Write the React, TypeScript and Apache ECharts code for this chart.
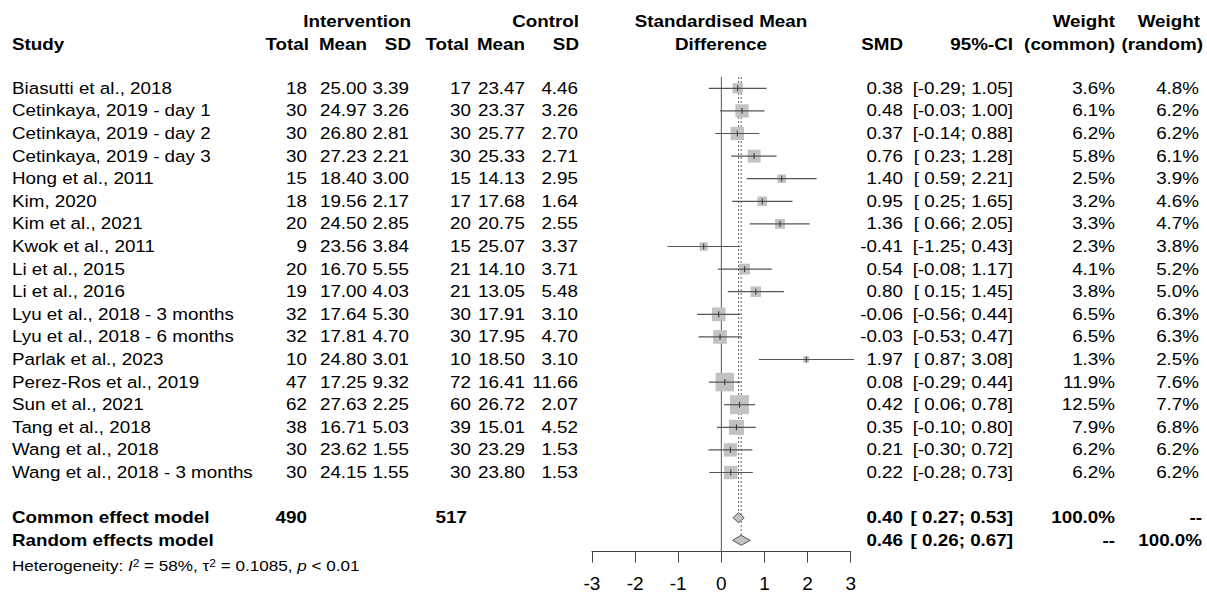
import React, { useEffect, useRef } from "react";
import * as echarts from "echarts";

const studies = [
  "Biasutti et al., 2018",
  "Cetinkaya, 2019 - day 1",
  "Cetinkaya, 2019 - day 2",
  "Cetinkaya, 2019 - day 3",
  "Hong et al., 2011",
  "Kim, 2020",
  "Kim et al., 2021",
  "Kwok et al., 2011",
  "Li et al., 2015",
  "Li et al., 2016",
  "Lyu et al., 2018 - 3 months",
  "Lyu et al., 2018 - 6 months",
  "Parlak et al., 2023",
  "Perez-Ros et al., 2019",
  "Sun et al., 2021",
  "Tang et al., 2018",
  "Wang et al., 2018",
  "Wang et al., 2018 - 3 months",
];
const intTotal = [18, 30, 30, 30, 15, 18, 20, 9, 20, 19, 32, 32, 10, 47, 62, 38, 30, 30];
const intMean = [25.0, 24.97, 26.8, 27.23, 18.4, 19.56, 24.5, 23.56, 16.7, 17.0, 17.64, 17.81, 24.8, 17.25, 27.63, 16.71, 23.62, 24.15];
const intSD = [3.39, 3.26, 2.81, 2.21, 3.0, 2.17, 2.85, 3.84, 5.55, 4.03, 5.3, 4.7, 3.01, 9.32, 2.25, 5.03, 1.55, 1.55];
const ctrlTotal = [17, 30, 30, 30, 15, 17, 20, 15, 21, 21, 30, 30, 10, 72, 60, 39, 30, 30];
const ctrlMean = [23.47, 23.37, 25.77, 25.33, 14.13, 17.68, 20.75, 25.07, 14.1, 13.05, 17.91, 17.95, 18.5, 16.41, 26.72, 15.01, 23.29, 23.8];
const ctrlSD = [4.46, 3.26, 2.7, 2.71, 2.95, 1.64, 2.55, 3.37, 3.71, 5.48, 3.1, 4.7, 3.1, 11.66, 2.07, 4.52, 1.53, 1.53];
const smd = [0.38, 0.48, 0.37, 0.76, 1.4, 0.95, 1.36, -0.41, 0.54, 0.8, -0.06, -0.03, 1.97, 0.08, 0.42, 0.35, 0.21, 0.22];
const ciLow = [-0.29, -0.03, -0.14, 0.23, 0.59, 0.25, 0.66, -1.25, -0.08, 0.15, -0.56, -0.53, 0.87, -0.29, 0.06, -0.1, -0.3, -0.28];
const ciHigh = [1.05, 1.0, 0.88, 1.28, 2.21, 1.65, 2.05, 0.43, 1.17, 1.45, 0.44, 0.47, 3.08, 0.44, 0.78, 0.8, 0.72, 0.73];
const weightCommon = [3.6, 6.1, 6.2, 5.8, 2.5, 3.2, 3.3, 2.3, 4.1, 3.8, 6.5, 6.5, 1.3, 11.9, 12.5, 7.9, 6.2, 6.2];
const weightRandom = [4.8, 6.2, 6.2, 6.1, 3.9, 4.6, 4.7, 3.8, 5.2, 5.0, 6.3, 6.3, 2.5, 7.6, 7.7, 6.8, 6.2, 6.2];

const summaryLabels = ["Common effect model", "Random effects model"];
const summaryEst = [0.4, 0.46];
const summaryLow = [0.27, 0.26];
const summaryHigh = [0.53, 0.67];
const summaryIntTotal = [490, null];
const summaryCtrlTotal = [517, null];
const summaryWCommon = ["100.0%", "--"];
const summaryWRandom = ["--", "100.0%"];
const xTickMin = -3;
const xTickMax = 3;

const FONT = "'Liberation Sans', Arial, sans-serif";
const FS = 16.5;
const SX = 1.14;

const fmt2 = (v: number) => v.toFixed(2);
const padCI = (v: number) => (v < 0 ? v.toFixed(2) : " " + v.toFixed(2));
const ci = (lo: number, hi: number) => `[${padCI(lo)}; ${hi.toFixed(2)}]`;

type Cell = { t: string; x: number; a: "left" | "right" | "center"; b?: boolean; rich?: boolean };

const COL = {
  study: 12,
  iTot: 307,
  iMean: 367,
  iSD: 409,
  cTot: 471,
  cMean: 525,
  cSD: 578,
  mid: 721,
  smd: 903,
  ci: 1013,
  wc: 1115,
  wr: 1199,
};

function buildTextRows(): { row: number; cells: Cell[] }[] {
  const rows: { row: number; cells: Cell[] }[] = [];
  rows.push({
    row: -2.95,
    cells: [
      { t: "Intervention", x: COL.iSD + 2, a: "right", b: true },
      { t: "Control", x: COL.cSD + 1, a: "right", b: true },
      { t: "Standardised Mean", x: COL.mid, a: "center", b: true },
      { t: "Weight", x: COL.wc, a: "right", b: true },
      { t: "Weight", x: COL.wr + 1, a: "right", b: true },
    ],
  });
  rows.push({
    row: -1.95,
    cells: [
      { t: "Study", x: COL.study, a: "left", b: true },
      { t: "Total", x: COL.iTot + 2, a: "right", b: true },
      { t: "Mean", x: COL.iMean, a: "right", b: true },
      { t: "SD", x: COL.iSD + 2, a: "right", b: true },
      { t: "Total", x: COL.cTot - 2, a: "right", b: true },
      { t: "Mean", x: COL.cMean, a: "right", b: true },
      { t: "SD", x: COL.cSD + 1, a: "right", b: true },
      { t: "Difference", x: COL.mid, a: "center", b: true },
      { t: "SMD", x: COL.smd, a: "right", b: true },
      { t: "95%-CI", x: COL.ci, a: "right", b: true },
      { t: "(common)", x: COL.wc, a: "right", b: true },
      { t: "(random)", x: COL.wr + 4, a: "right", b: true },
    ],
  });
  studies.forEach((s, i) => {
    rows.push({
      row: i,
      cells: [
        { t: s, x: COL.study, a: "left" },
        { t: String(intTotal[i]), x: COL.iTot, a: "right" },
        { t: fmt2(intMean[i]), x: COL.iMean, a: "right" },
        { t: fmt2(intSD[i]), x: COL.iSD, a: "right" },
        { t: String(ctrlTotal[i]), x: COL.cTot, a: "right" },
        { t: fmt2(ctrlMean[i]), x: COL.cMean, a: "right" },
        { t: fmt2(ctrlSD[i]), x: COL.cSD, a: "right" },
        { t: fmt2(smd[i]), x: COL.smd, a: "right" },
        { t: ci(ciLow[i], ciHigh[i]), x: COL.ci, a: "right" },
        { t: weightCommon[i].toFixed(1) + "%", x: COL.wc, a: "right" },
        { t: weightRandom[i].toFixed(1) + "%", x: COL.wr, a: "right" },
      ],
    });
  });
  summaryLabels.forEach((lab, k) => {
    const cells: Cell[] = [{ t: lab, x: COL.study, a: "left", b: true }];
    if (summaryIntTotal[k] != null) cells.push({ t: String(summaryIntTotal[k]), x: COL.iTot, a: "right", b: true });
    if (summaryCtrlTotal[k] != null) cells.push({ t: String(summaryCtrlTotal[k]), x: COL.cTot - 4, a: "right", b: true });
    cells.push({ t: fmt2(summaryEst[k]), x: COL.smd, a: "right", b: true });
    cells.push({ t: ci(summaryLow[k], summaryHigh[k]), x: COL.ci, a: "right", b: true });
    cells.push({ t: summaryWCommon[k], x: COL.wc, a: "right", b: true });
    cells.push({ t: summaryWRandom[k], x: COL.wr + 3, a: "right", b: true });
    rows.push({ row: studies.length + 1 + k, cells });
  });
  rows.push({
    row: studies.length + 3.1,
    cells: [
      {
        t: "Heterogeneity: {it|I}{sup|2} = 58%, τ{sup|2} = 0.1085, {it|p} < 0.01",
        x: COL.study,
        a: "left",
        rich: true,
      },
    ],
  });
  return rows;
}

export default function App() {
  const ref = useRef<HTMLDivElement>(null);

  useEffect(() => {
    if (!ref.current) return;
    const chart = echarts.init(ref.current, null, { renderer: "svg" });
    const textRows = buildTextRows();
    const nStudies = studies.length;
    const commonRow = nStudies + 1;
    const randomRow = nStudies + 2;
    const DIA_H = 5;

    const option: any = {
      animation: false,
      backgroundColor: "#ffffff",
      grid: { left: 592, right: 356.3, top: 9.2, bottom: 42.4, containLabel: false },
      xAxis: {
        type: "value",
        min: xTickMin,
        max: xTickMax,
        interval: 1,
        splitLine: { show: false },
        axisLine: { show: true, onZero: false, lineStyle: { color: "#444", width: 1 } },
        axisTick: { show: true, length: 11, lineStyle: { color: "#444", width: 1 } },
        axisLabel: { color: "#000", fontSize: 19, fontFamily: FONT, margin: 22 },
      },
      yAxis: {
        type: "value",
        min: -3.5,
        max: randomRow + 0.5,
        inverse: true,
        show: false,
        splitLine: { show: false },
      },
      series: [
        {
          type: "custom",
          name: "reflines",
          silent: true,
          data: [
            [0, -0.5, randomRow + 0.5, 0],
            [summaryEst[0], -0.5, commonRow, 1],
            [summaryEst[1], -0.5, randomRow, 1],
          ],
          renderItem: (params: any, api: any) => {
            const x = api.value(0);
            const p0 = api.coord([x, api.value(1)]);
            const p1 = api.coord([x, api.value(2)]);
            const dotted = api.value(3) === 1;
            return {
              type: "line",
              shape: { x1: p0[0], y1: p0[1], x2: p1[0], y2: dotted ? p1[1] - DIA_H : p1[1] },
              style: {
                stroke: dotted ? "#666" : "#555",
                lineWidth: 1,
                lineDash: dotted ? [2, 2] : null,
              },
            };
          },
          z: 1,
        },
        {
          type: "custom",
          name: "studies",
          silent: true,
          data: studies.map((_, i) => [smd[i], i, ciLow[i], ciHigh[i], weightCommon[i]]),
          renderItem: (params: any, api: any) => {
            const est = api.value(0);
            const row = api.value(1);
            const p = api.coord([est, row]);
            const l = api.coord([api.value(2), row]);
            const h = api.coord([api.value(3), row]);
            const side = 5.37 * Math.sqrt(api.value(4));
            return {
              type: "group",
              children: [
                {
                  type: "rect",
                  shape: { x: p[0] - side / 2, y: p[1] - side / 2, width: side, height: side },
                  style: { fill: "#c2c2c2", stroke: null },
                },
                {
                  type: "line",
                  shape: { x1: l[0], y1: p[1], x2: h[0], y2: p[1] },
                  style: { stroke: "#555", lineWidth: 1.2 },
                },
                {
                  type: "line",
                  shape: { x1: p[0], y1: p[1] - 3, x2: p[0], y2: p[1] + 3 },
                  style: { stroke: "#333", lineWidth: 1 },
                },
              ],
            };
          },
          z: 2,
        },
        {
          type: "custom",
          name: "diamonds",
          silent: true,
          data: summaryEst.map((e, k) => [e, commonRow + k, summaryLow[k], summaryHigh[k]]),
          renderItem: (params: any, api: any) => {
            const row = api.value(1);
            const p = api.coord([api.value(0), row]);
            const l = api.coord([api.value(2), row]);
            const h = api.coord([api.value(3), row]);
            return {
              type: "polygon",
              shape: {
                points: [
                  [l[0], p[1]],
                  [p[0], p[1] - DIA_H],
                  [h[0], p[1]],
                  [p[0], p[1] + DIA_H],
                ],
              },
              style: { fill: "#c2c2c2", stroke: "#555", lineWidth: 1 },
            };
          },
          z: 3,
        },
        {
          type: "custom",
          name: "table",
          silent: true,
          data: textRows.map((r) => [0, r.row]),
          renderItem: (params: any, api: any) => {
            const r = textRows[params.dataIndex];
            const y = api.coord([0, api.value(1)])[1];
            return {
              type: "group",
              children: r.cells.map((c) => {
                const size = c.rich ? 15 : FS;
                const style: any = {
                  text: c.t,
                  x: 0,
                  y: 0,
                  fill: "#000",
                  fontSize: size,
                  fontFamily: FONT,
                  fontWeight: c.b ? "bold" : "normal",
                  align: c.a,
                  textAlign: c.a,
                  verticalAlign: "middle",
                  textVerticalAlign: "middle",
                };
                if (c.rich) {
                  style.rich = {
                    it: { fontStyle: "italic", fontSize: size, fontFamily: FONT, fill: "#000" },
                    sup: { fontSize: 10.5, fontFamily: FONT, verticalAlign: "top", fill: "#000", lineHeight: 10 },
                  };
                }
                return { type: "text", x: c.x, y, scaleX: SX, scaleY: 1, style };
              }),
            };
          },
          z: 4,
        },
      ],
    };
    chart.setOption(option);
    return () => chart.dispose();
  }, []);

  return (
    <div
      ref={ref}
      style={{ position: "fixed", left: 0, top: 0, width: 1207, height: 594, background: "#fff" }}
    />
  );
}
